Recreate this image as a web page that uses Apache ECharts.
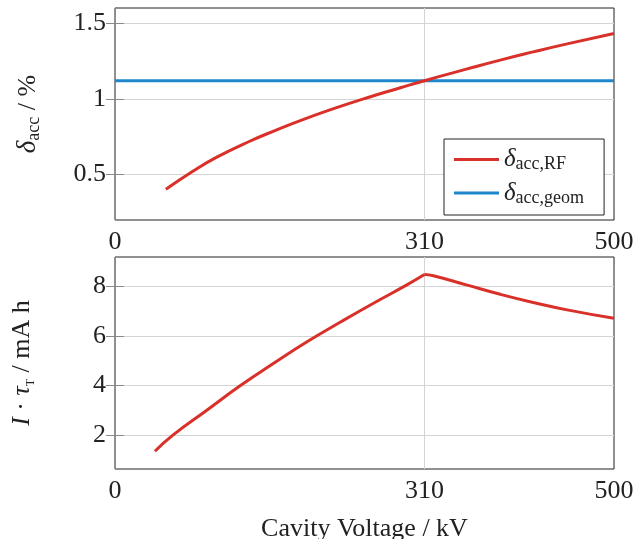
<!DOCTYPE html>
<html>
<head>
<meta charset="utf-8">
<script src="https://cdn.jsdelivr.net/npm/echarts@6/dist/echarts.min.js"></script>
<style>
html,body{margin:0;padding:0;background:#fff;}
#chart{width:635px;height:539px;}
</style>
</head>
<body>
<div id="chart"></div>
<script>
// ---- data ----
var xTicks = [0, 310, 500];
var topYTicks = [0.5, 1, 1.5];
var bottomYTicks = [2, 4, 6, 8];

var rfVoltage = [51, 78, 102, 135, 162, 185, 219, 252, 286, 310, 352, 386, 419, 453, 500];
var rfDelta   = [0.403, 0.522, 0.615, 0.72, 0.795, 0.855, 0.935, 1.006, 1.073, 1.12, 1.196, 1.256, 1.31, 1.363, 1.432];

var geomVoltage = [0, 500];
var geomDelta   = [1.12, 1.12];

// rising branch (up to the 310 kV kink) and falling branch
var lifeVoltageUp = [40, 58, 92, 125, 159, 192, 226, 259, 292, 310];
var lifeValueUp   = [1.34, 1.99, 3.0, 3.98, 4.9, 5.76, 6.57, 7.33, 8.06, 8.49];
var lifeVoltageDown = [310, 319, 352, 386, 419, 453, 500];
var lifeValueDown   = [8.49, 8.44, 8.07, 7.69, 7.36, 7.06, 6.72];

var markVoltage = 310;

function pairs(xs, ys) { return xs.map(function (x, i) { return [x, ys[i]]; }); }

var FONT = 'Liberation Serif';
var RED = '#d9302a';
var BLUE = '#1f86cb';
var GRID = '#d4d4d4';
var FRAME = '#222222';
var TICK = '#8a8a8a';

var labelStyle = { fontFamily: FONT, fontSize: 26, color: '#222' };

function xAxisDef(gridIndex, pos, show) {
  return {
    type: 'value', gridIndex: gridIndex, position: pos, min: 0, max: 500,
    axisLine: { show: false },
    axisTick: { show: true, inside: true, length: 9, customValues: xTicks, lineStyle: { color: TICK, width: 1 } },
    axisLabel: Object.assign({ show: show, margin: 9, customValues: xTicks }, labelStyle),
    splitLine: { show: false }
  };
}
function yAxisDef(gridIndex, pos, min, max, ticks, show, name, rich, gap) {
  var a = {
    type: 'value', gridIndex: gridIndex, position: pos, min: min, max: max,
    axisLine: { show: false },
    axisTick: { show: true, inside: true, length: 9, customValues: ticks, lineStyle: { color: TICK, width: 1 } },
    axisLabel: Object.assign({ show: show, margin: 9, customValues: ticks,
      formatter: function (v) { return String(v); } }, labelStyle),
    splitLine: { show: show, lineStyle: { color: GRID, width: 1 } }
  };
  if (name) {
    a.name = name;
    a.nameLocation = 'middle';
    a.nameGap = gap;
    a.nameTextStyle = { fontFamily: FONT, fontSize: 26, color: '#222', rich: rich };
  }
  return a;
}

var richTop = {
  d: { fontFamily: FONT, fontSize: 27, fontStyle: 'italic', color: '#222', lineHeight: 30 },
  s: { fontFamily: FONT, fontSize: 18, color: '#222', lineHeight: 18, verticalAlign: 'bottom' },
  n: { fontFamily: FONT, fontSize: 26, color: '#222', lineHeight: 30 }
};
var richBottom = {
  i: { fontFamily: FONT, fontSize: 26, fontStyle: 'italic', color: '#222', lineHeight: 30 },
  n: { fontFamily: FONT, fontSize: 26, color: '#222', lineHeight: 30 },
  s: { fontFamily: FONT, fontSize: 12, color: '#222', lineHeight: 14, verticalAlign: 'bottom' }
};
var richLegend = {
  d: { fontFamily: FONT, fontSize: 25, fontStyle: 'italic', color: '#222', lineHeight: 28 },
  s: { fontFamily: FONT, fontSize: 18, color: '#222', lineHeight: 20, verticalAlign: 'bottom' }
};

function redLine(name, xi, yi, data) {
  return {
    name: name, type: 'line', xAxisIndex: xi, yAxisIndex: yi,
    data: data, showSymbol: false, symbol: 'none', smooth: 0.5,
    lineStyle: { color: RED, width: 3 }, itemStyle: { color: RED }, z: 4
  };
}

var chart = echarts.init(document.getElementById('chart'), null, { renderer: 'canvas' });
var lifeDown = redLine('lifeDown', 2, 2, pairs(lifeVoltageDown, lifeValueDown));
var lifeUp = redLine('lifeUp', 2, 2, pairs(lifeVoltageUp, lifeValueUp));
lifeUp.markLine = {
  silent: true, symbol: 'none', label: { show: false },
  lineStyle: { color: GRID, width: 1, type: 'solid' },
  data: [{ xAxis: markVoltage }], z: 1
};
chart.setOption({
  animation: false,
  backgroundColor: '#fff',
  grid: [
    { left: 115, top: 8, width: 499, height: 212, show: true, borderColor: FRAME, borderWidth: 1,
      backgroundColor: 'transparent', containLabel: false, outerBoundsMode: 'none' },
    { left: 115, top: 257, width: 499, height: 212, show: true, borderColor: FRAME, borderWidth: 1,
      backgroundColor: 'transparent', containLabel: false, outerBoundsMode: 'none' }
  ],
  xAxis: [
    xAxisDef(0, 'bottom', true),
    xAxisDef(0, 'top', false),
    Object.assign(xAxisDef(1, 'bottom', true), {
      name: 'Cavity Voltage / kV', nameLocation: 'middle', nameGap: 47,
      nameTextStyle: { fontFamily: FONT, fontSize: 26, color: '#222' }
    }),
    xAxisDef(1, 'top', false)
  ],
  yAxis: [
    yAxisDef(0, 'left', 0.2, 1.6, topYTicks, true, '{d|δ}{s|acc}{n| / %}', richTop, 72),
    yAxisDef(0, 'right', 0.2, 1.6, topYTicks, false),
    yAxisDef(1, 'left', 0.62, 9.2, bottomYTicks, true, '{i|I}{n| · }{i|τ}{s|T}{n| / mA h}', richBottom, 78),
    yAxisDef(1, 'right', 0.62, 9.2, bottomYTicks, false)
  ],
  legend: {
    left: 444, top: 139,
    orient: 'vertical',
    data: ['rf', 'geom'],
    icon: 'rect', itemWidth: 45, itemHeight: 3, itemGap: 7,
    padding: [8, 20, 8, 10],
    borderColor: FRAME, borderWidth: 1, backgroundColor: '#fff',
    formatter: function (n) { return n === 'rf' ? '{d|δ}{s|acc,RF}' : '{d|δ}{s|acc,geom}'; },
    textStyle: { rich: richLegend }
  },
  series: [
    {
      name: 'geom', type: 'line', xAxisIndex: 0, yAxisIndex: 0,
      data: pairs(geomVoltage, geomDelta), showSymbol: false, symbol: 'none',
      lineStyle: { color: BLUE, width: 3 }, itemStyle: { color: BLUE }, z: 3,
      markLine: {
        silent: true, symbol: 'none', label: { show: false },
        lineStyle: { color: GRID, width: 1, type: 'solid' },
        data: [{ xAxis: markVoltage }], z: 1
      }
    },
    redLine('rf', 0, 0, pairs(rfVoltage, rfDelta)),
    lifeUp,
    lifeDown
  ]
});
</script>
</body>
</html>
